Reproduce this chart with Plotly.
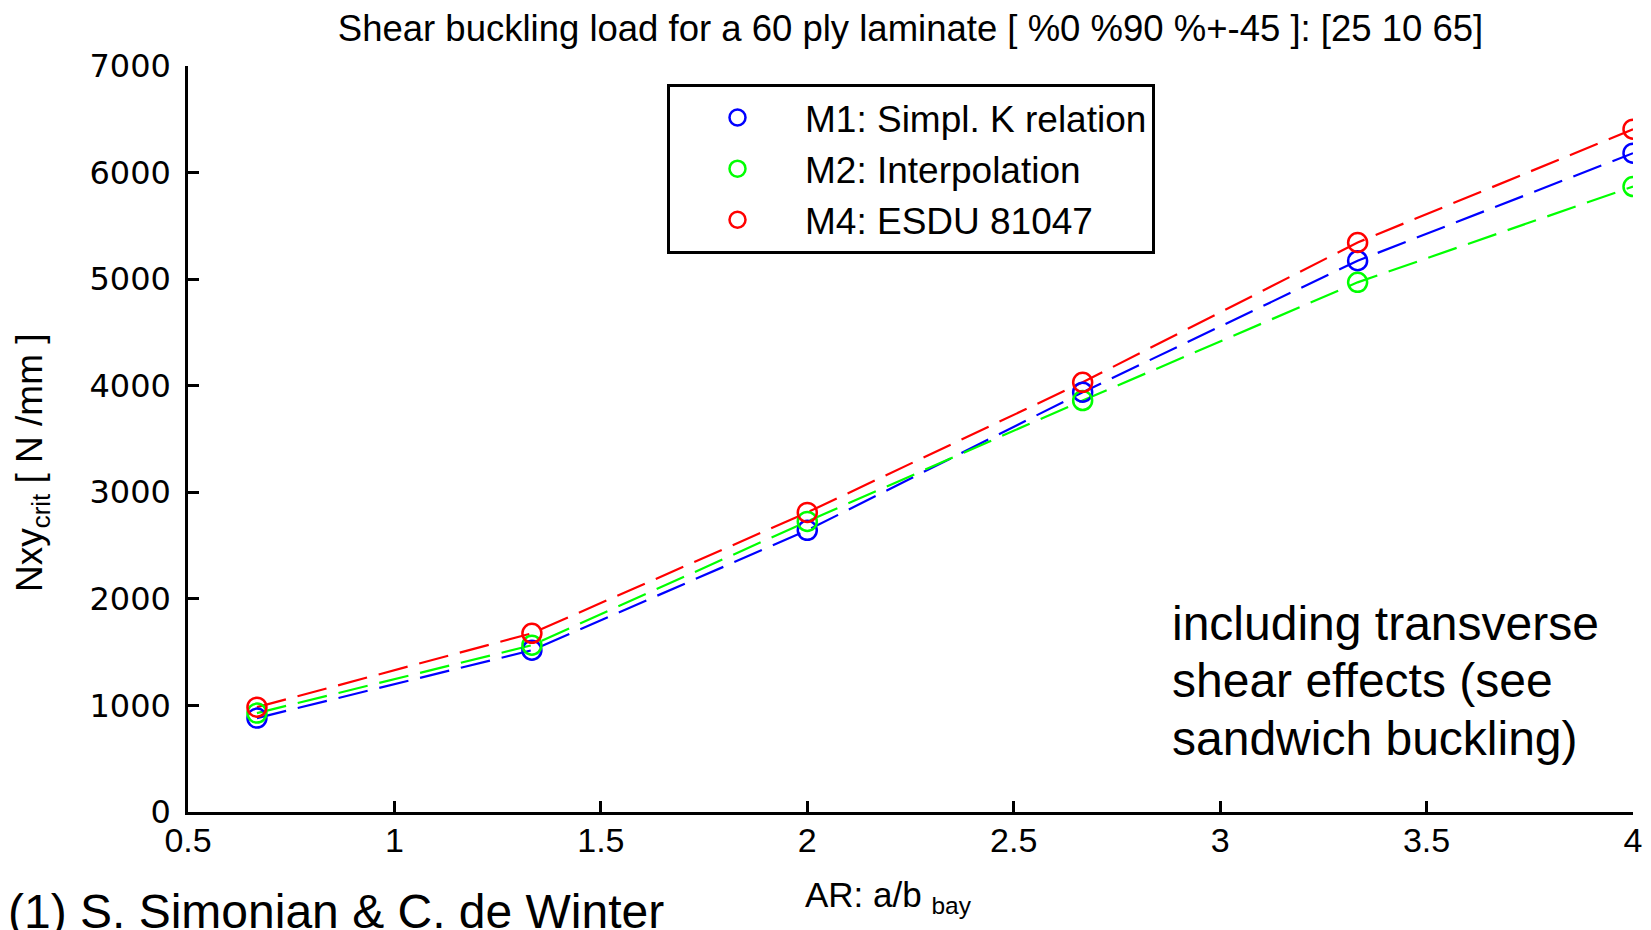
import plotly.graph_objects as go

# aspect ratio a/b of the bay
ar = [0.667, 1.333, 2.0, 2.667, 3.333, 4.0]

# critical shear buckling load Nxy [N/mm]
m1_simpl_k = [881, 1518, 2643, 3939, 5173, 6182]
m2_interp = [928, 1565, 2727, 3861, 4970, 5869]
m4_esdu = [984, 1677, 2811, 4032, 5344, 6407]

series = [
    ("M1: Simpl. K relation", m1_simpl_k, "rgb(0,0,255)"),
    ("M2: Interpolation", m2_interp, "rgb(0,255,0)"),
    ("M4: ESDU 81047", m4_esdu, "rgb(255,0,0)"),
]

x_ticks = [0.5, 1, 1.5, 2, 2.5, 3, 3.5, 4]
y_ticks = [0, 1000, 2000, 3000, 4000, 5000, 6000, 7000]

note_lines = ["including transverse", "shear effects (see", "sandwich buckling)"]

font = "Liberation Sans, Arial, sans-serif"

# the page body adds an 8px margin, so the figure is 8px smaller than the window
W, H = 1643, 922
L, R, T, B = 180, 18, 58, 118
pw, ph = W - L - R, H - T - B


def px(x):
    return (x - L) / pw


def py(y):
    return (H - B - y) / ph


fig = go.Figure()
for name, vals, col in series:
    fig.add_trace(go.Scatter(x=ar, y=vals, mode="lines", showlegend=False,
                             line=dict(color=col, width=2.2, dash="30px,12px"),
                             hoverinfo="skip"))
for name, vals, col in series:
    fig.add_trace(go.Scatter(x=ar, y=vals, mode="markers", name=name,
                             marker=dict(symbol="circle-open", size=19, color=col,
                                         line=dict(width=2.5, color=col))))

fig.update_layout(
    width=W, height=H,
    margin=dict(l=L, r=R, t=T, b=B),
    paper_bgcolor="white", plot_bgcolor="white",
    font=dict(family=font, color="black", size=34),
    title=dict(text="Shear buckling load for a 60 ply laminate [ %0 %90 %+-45 ]: [25 10 65]",
               x=0.5, xref="paper", xanchor="center",
               y=1 - 20 / H, yref="container", yanchor="middle",
               font=dict(size=36.5)),
    legend=dict(x=px(659), y=py(76), xanchor="left", yanchor="top",
                bgcolor="white", bordercolor="black", borderwidth=3,
                font=dict(size=37), itemwidth=125, tracegroupgap=0),
    showlegend=True,
)

fig.update_xaxes(range=[0.5, 4], tickvals=x_ticks, ticktext=[str(t) for t in x_ticks],
                 showgrid=False, zeroline=False, showline=True, linecolor="black",
                 linewidth=2.5, ticks="inside", ticklen=11, tickwidth=2.5,
                 tickcolor="black", ticklabelstandoff=-4, automargin=False,
                 tickfont=dict(size=34))
fig.update_yaxes(range=[0, 7000], tickvals=y_ticks,
                 showgrid=False, zeroline=False, showline=True, linecolor="black",
                 linewidth=2.5, ticks="inside", ticklen=11, tickwidth=2.5,
                 tickcolor="black", ticklabelstandoff=8, automargin=False,
                 tickfont=dict(size=32, family="DejaVu Sans"))

# axis titles
fig.add_annotation(text="AR: a/b <sub>bay</sub>", xref="paper", yref="paper",
                   x=px(795), y=py(865), xanchor="left", yanchor="top",
                   showarrow=False, font=dict(size=35))
fig.add_annotation(text="Nxy<sub>crit</sub> [ N /mm ]", xref="paper", yref="paper",
                   x=px(24), y=py(455), xanchor="center", yanchor="middle",
                   textangle=-90, showarrow=False, font=dict(size=37))

for i, line in enumerate(note_lines):
    fig.add_annotation(text=line, xref="paper", yref="paper",
                       x=px(1162), y=py([615, 672, 730][i]),
                       xanchor="left", yanchor="middle", align="left", showarrow=False,
                       font=dict(size=48))
fig.add_annotation(text="(1) S. Simonian &amp; C. de Winter",
                   xref="paper", yref="paper", x=px(-2), y=py(903),
                   xanchor="left", yanchor="middle", align="left", showarrow=False,
                   font=dict(size=48))

fig.write_html("out.html")
